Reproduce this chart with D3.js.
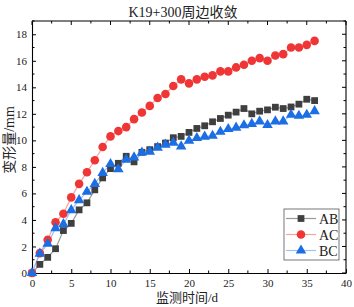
<!DOCTYPE html>
<html>
<head>
<meta charset="utf-8">
<script src="https://cdn.jsdelivr.net/npm/d3@7"></script>
<style>
  body { margin: 0; background: #fff; }
  text { font-family: "Liberation Serif", "Noto Sans CJK SC", serif; fill: #222; }
</style>
</head>
<body>
<div id="chart"></div>
<script>
// data
const days = d3.range(0, 37);
const abValues = [0, 0.65, 1.18, 1.83, 3.2, 3.74, 4.76, 5.29, 6.27, 7.17, 7.87, 8.27, 8.8, 8.38, 9.1, 9.3, 9.53, 9.8, 10.2, 10.3, 10.6, 10.9, 11.1, 11.4, 11.65, 11.9, 12.13, 12.4, 12.0, 12.2, 12.3, 12.5, 12.4, 12.52, 12.73, 13.1, 13.0];
const acValues = [0, 1.5, 2.5, 3.83, 4.47, 5.7, 6.72, 7.6, 8.5, 9.5, 10.3, 10.7, 11.0, 11.6, 12.1, 12.6, 13.2, 13.5, 14.1, 14.6, 14.3, 14.6, 14.8, 14.9, 15.2, 15.2, 15.5, 15.7, 16.0, 16.2, 16.0, 16.4, 16.5, 17.0, 17.0, 17.2, 17.5];
const bcValues = [0, 1.46, 2.2, 3.38, 3.68, 4.74, 5.49, 6.12, 6.72, 7.55, 8.22, 7.82, 8.55, 8.72, 9.08, 9.15, 9.45, 9.68, 9.83, 9.55, 9.98, 10.18, 10.28, 10.35, 10.65, 10.86, 10.96, 11.14, 11.24, 11.43, 11.16, 11.43, 11.43, 11.93, 11.85, 11.93, 12.2];
const seriesNames = ["AB", "AC", "BC"];
const xTicks = [0, 5, 10, 15, 20, 25, 30, 35, 40];
const yTicks = [0, 2, 4, 6, 8, 10, 12, 14, 16, 18];

const width = 354, height = 307;
const margin = { top: 21, right: 8, bottom: 34, left: 32 };
const innerWidth = width - margin.left - margin.right;
const innerHeight = height - margin.top - margin.bottom;

const series = [
  { name: seriesNames[0], values: abValues, marker: "square", fill: "#3f3f3f", line: "#9a9a9a" },
  { name: seriesNames[1], values: acValues, marker: "circle", fill: "#ef3535", line: "#f5a3a3" },
  { name: seriesNames[2], values: bcValues, marker: "triangle", fill: "#1b6ee3", line: "#9ec3f2" }
];

const svg = d3.select("#chart").append("svg")
  .attr("width", width)
  .attr("height", height);

const innerChart = svg.append("g")
  .attr("transform", `translate(${margin.left}, ${margin.top})`);

const xScale = d3.scaleLinear().domain([0, 40]).range([0, innerWidth]);
const yScale = d3.scaleLinear().domain([0, 19]).range([innerHeight, 0]);

// axes with inward ticks (major + minor)
const xMinor = d3.range(0, 40.01, 2.5);
const yMinor = d3.range(0, 19.01, 1);

innerChart.append("g")
  .attr("transform", `translate(0, ${innerHeight})`)
  .call(d3.axisBottom(xScale).tickValues(xTicks).tickSize(-4).tickPadding(6).tickSizeOuter(0));

innerChart.append("g")
  .call(d3.axisLeft(yScale).tickValues(yTicks).tickSize(-4).tickPadding(5).tickSizeOuter(0));

// frame on top and right
innerChart.append("line")
  .attr("x1", 0).attr("x2", innerWidth).attr("y1", 0).attr("y2", 0)
  .attr("stroke", "#000").attr("stroke-width", 1.1);
innerChart.append("line")
  .attr("x1", innerWidth).attr("x2", innerWidth).attr("y1", 0).attr("y2", innerHeight)
  .attr("stroke", "#000").attr("stroke-width", 1.1);

// mirrored ticks
const tickG = innerChart.append("g").attr("stroke", "#000");
tickG.selectAll("line.xt")
  .data(xMinor).join("line").attr("class", "xt")
  .attr("x1", d => xScale(d)).attr("x2", d => xScale(d))
  .attr("y1", 0).attr("y2", d => xTicks.includes(d) ? 4 : 2.5);
tickG.selectAll("line.xb")
  .data(xMinor.filter(d => !xTicks.includes(d))).join("line").attr("class", "xb")
  .attr("x1", d => xScale(d)).attr("x2", d => xScale(d))
  .attr("y1", innerHeight).attr("y2", innerHeight - 2.5);
tickG.selectAll("line.yr")
  .data(yMinor).join("line").attr("class", "yr")
  .attr("y1", d => yScale(d)).attr("y2", d => yScale(d))
  .attr("x1", innerWidth).attr("x2", d => innerWidth - (yTicks.includes(d) ? 4 : 2.5));
tickG.selectAll("line.yl")
  .data(yMinor.filter(d => !yTicks.includes(d))).join("line").attr("class", "yl")
  .attr("y1", d => yScale(d)).attr("y2", d => yScale(d))
  .attr("x1", 0).attr("x2", 2.5);

innerChart.selectAll(".tick text")
  .style("font-size", "11px")
  .style("font-family", "Liberation Serif, serif")
  .attr("fill", "#222");
innerChart.selectAll(".domain").attr("stroke", "#000").attr("stroke-width", 1.1);

// lines + markers
const lineGen = d3.line()
  .x((d, i) => xScale(days[i]))
  .y(d => yScale(d));

const symbolFor = {
  square: d3.symbol().type(d3.symbolSquare).size(46),
  circle: d3.symbol().type(d3.symbolCircle).size(58),
  triangle: d3.symbol().type(d3.symbolTriangle).size(48)
};

series.forEach(s => {
  innerChart.append("path")
    .datum(s.values)
    .attr("d", lineGen)
    .attr("fill", "none")
    .attr("stroke", s.line)
    .attr("stroke-width", 1.2);
});

series.forEach(s => {
  innerChart.append("g").selectAll("path")
    .data(s.values)
    .join("path")
    .attr("transform", (d, i) => `translate(${xScale(days[i])}, ${yScale(d)})`)
    .attr("d", symbolFor[s.marker])
    .attr("fill", s.fill);
});

// legend
const legend = svg.append("g")
  .attr("transform", `translate(284, 209)`);

legend.append("rect")
  .attr("width", 55).attr("height", 51)
  .attr("fill", "#fff")
  .attr("stroke", "#555")
  .attr("stroke-width", 0.8);

legend.selectAll("g.item")
  .data(series)
  .join("g")
  .attr("class", "item")
  .attr("transform", (d, i) => `translate(0, ${9.5 + i * 16})`)
  .each(function (d) {
    const g = d3.select(this);
    g.append("line")
      .attr("x1", 2).attr("x2", 32)
      .attr("stroke", d.line).attr("stroke-width", 1.2);
    g.append("path")
      .attr("transform", "translate(17, 0)")
      .attr("d", symbolFor[d.marker])
      .attr("fill", d.fill);
    g.append("text")
      .attr("x", 35).attr("y", 5)
      .attr("font-size", "14px")
      .text(d.name);
  });

// title and axis labels
svg.append("text")
  .attr("x", 183)
  .attr("y", 17)
  .attr("text-anchor", "middle")
  .attr("font-size", "14px")
  .text("K19+300周边收敛");

svg.append("text")
  .attr("x", 187)
  .attr("y", 302)
  .attr("text-anchor", "middle")
  .attr("font-size", "13px")
  .text("监测时间/d");

svg.append("text")
  .attr("transform", `translate(14, 140) rotate(-90)`)
  .attr("text-anchor", "middle")
  .attr("font-size", "14px")
  .text("变形量/mm");
</script>
</body>
</html>
